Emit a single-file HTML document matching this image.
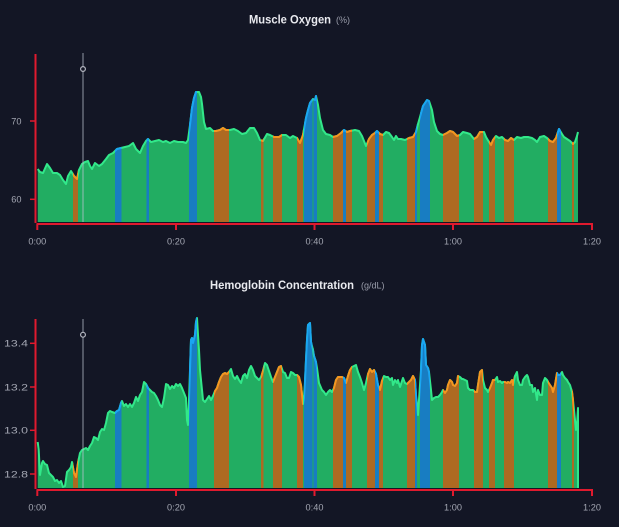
<!DOCTYPE html>
<html><head><meta charset="utf-8"><style>
html,body{margin:0;padding:0;background:#131625;}
svg{display:block;}
text{font-family:"Liberation Sans",sans-serif;}
</style></head><body>
<svg width="619" height="527" viewBox="0 0 619 527" xmlns="http://www.w3.org/2000/svg">
<rect width="619" height="527" fill="#131625"/>
<defs>
<clipPath id="cOr">
<rect x="73" y="0" width="5" height="527"/>
<rect x="214" y="0" width="15" height="527"/>
<rect x="261" y="0" width="2.5" height="527"/>
<rect x="273" y="0" width="9" height="527"/>
<rect x="297" y="0" width="6" height="527"/>
<rect x="333" y="0" width="10" height="527"/>
<rect x="346" y="0" width="6" height="527"/>
<rect x="367" y="0" width="8" height="527"/>
<rect x="379" y="0" width="4" height="527"/>
<rect x="407" y="0" width="8" height="527"/>
<rect x="443" y="0" width="16" height="527"/>
<rect x="474" y="0" width="9" height="527"/>
<rect x="489" y="0" width="6" height="527"/>
<rect x="504" y="0" width="10" height="527"/>
<rect x="548" y="0" width="9" height="527"/>
<rect x="572" y="0" width="2" height="527"/>
</clipPath>
<clipPath id="cBl">
<rect x="115" y="0" width="6.5" height="527"/>
<rect x="146.5" y="0" width="2.5" height="527"/>
<rect x="189" y="0" width="8" height="527"/>
<rect x="304" y="0" width="8.5" height="527"/>
<rect x="313.5" y="0" width="3.5" height="527"/>
<rect x="343" y="0" width="3" height="527"/>
<rect x="375" y="0" width="4" height="527"/>
<rect x="415" y="0" width="2" height="527"/>
<rect x="420" y="0" width="10" height="527"/>
<rect x="557" y="0" width="4" height="527"/>
</clipPath>
<path id="tA" d="M37.7,222 L37.7,169 40,172 43,173 47,164 50,168 53,173 57,173 60,175 63,180 66,184 68,176 71,171 74,176 77,179 79,170 82,164 85,162 88,161 90,166 92,169 95,163 99,166 102,164 106,159 109,155 113,153 117,149 121,148 125,147 129,146 133,143 136,149 140,153 143,146 146,141 148,139 151,142 155,141 159,140 163,142 166,141 170,143 174,141 178,142 183,142 186,143 188,140 190,125 192,108 194,98 196,92 199,92 201,97 202,104 204,122 206,129 210,128 213,131 216,131 220,130 223,128 226,130 230,130 234,129 238,131 242,134 246,133 250,128 254,128 257,133 260,140 263,141 267,134 270,135 274,137 279,137 282,135 286,135 290,138 293,136 297,138 300,143 303,135 306,118 308,110 310,103 313,99 315,100 316,96 318,105 320,118 323,130 326,134 330,135 333,137 337,136 341,133 344,130 347,132 350,131 355,130 359,131 362,136 366,146 369,139 372,135 375,133 377,131 380,134 383,135 386,132 389,133 392,137 394,140 396,136 398,139 401,139 405,140 409,138 413,137 416,132 418,124 420,117 423,106 427,100 429,101 432,110 434,122 437,131 440,134 443,135 447,133 450,131 453,132 457,136 460,135 463,132 467,133 470,134 474,139 477,137 480,132 484,132 486,137 489,142 491,145 493,140 496,136 499,138 502,137 505,140 508,141 511,138 514,140 517,137 521,138 524,137 528,137 532,138 535,140 537,142 540,137 544,136 547,138 550,141 553,142 556,138 559,129 562,134 564,137 567,139 570,141 573,144 575,142 577,136 578,132 L578,222 Z"/>
<path id="tL" d="M37.7,169 40,172 43,173 47,164 50,168 53,173 57,173 60,175 63,180 66,184 68,176 71,171 74,176 77,179 79,170 82,164 85,162 88,161 90,166 92,169 95,163 99,166 102,164 106,159 109,155 113,153 117,149 121,148 125,147 129,146 133,143 136,149 140,153 143,146 146,141 148,139 151,142 155,141 159,140 163,142 166,141 170,143 174,141 178,142 183,142 186,143 188,140 190,125 192,108 194,98 196,92 199,92 201,97 202,104 204,122 206,129 210,128 213,131 216,131 220,130 223,128 226,130 230,130 234,129 238,131 242,134 246,133 250,128 254,128 257,133 260,140 263,141 267,134 270,135 274,137 279,137 282,135 286,135 290,138 293,136 297,138 300,143 303,135 306,118 308,110 310,103 313,99 315,100 316,96 318,105 320,118 323,130 326,134 330,135 333,137 337,136 341,133 344,130 347,132 350,131 355,130 359,131 362,136 366,146 369,139 372,135 375,133 377,131 380,134 383,135 386,132 389,133 392,137 394,140 396,136 398,139 401,139 405,140 409,138 413,137 416,132 418,124 420,117 423,106 427,100 429,101 432,110 434,122 437,131 440,134 443,135 447,133 450,131 453,132 457,136 460,135 463,132 467,133 470,134 474,139 477,137 480,132 484,132 486,137 489,142 491,145 493,140 496,136 499,138 502,137 505,140 508,141 511,138 514,140 517,137 521,138 524,137 528,137 532,138 535,140 537,142 540,137 544,136 547,138 550,141 553,142 556,138 559,129 562,134 564,137 567,139 570,141 573,144 575,142 577,136 578,132"/>
<path id="bA" d="M37.7,488 L37.7,442 38.7,450 40,475 42,463 43,461 45,464 47,465 49,473 51,475 53,477 55,481 57,480 59,483 61,481 63,487 65,486 67,472 69,470 71,467 72,462 74,473 76,477 78,463 80,453 82,450 84,449 86,448 88,450 90,446 92,443 94,437 96,438 98,440 100,432 102,429 104,430 106,423 108,413 110,411 112,412 115,413 117,411 119,410 121,403 122,401 124,406 126,404 128,407 130,404 132,407 134,403 136,397 138,401 140,395 142,392 144,382 146,384 148,388 150,390 152,392 154,393 156,396 158,400 160,405 162,407 164,398 166,384 168,385 170,389 172,386 174,388 176,384 178,386 180,384 182,388 184,393 186,398 187,420 188,425 189,400 191,340 192,338 193,343 195,335 196,322 197,318 198,335 199,350 200,370 202,390 203,400 205,402 207,399 209,396 211,400 213,396 215,391 217,388 219,382 221,377 223,374 225,373 227,374 229,372 231,369 233,376 235,379 237,376 239,380 241,383 243,376 245,374 247,378 249,370 251,366 253,370 255,376 257,378 259,380 261,377 263,371 265,363 267,365 269,371 271,377 273,382 275,377 277,372 279,367 281,366 283,372 285,373 287,378 289,378 291,372 293,373 295,375 297,375 299,377 301,385 303,404 304,398 305,381 306,360 307,340 308,325 310,323 311,342 313,350 314,356 316,362 317,368 319,383 322,390 324,392 326,395 328,392 330,390 332,392 334,388 336,380 338,377 340,377 342,377 344,378 346,383 348,376 350,370 352,367 354,366 356,365 358,372 360,377 362,383 364,390 366,383 368,374 370,369 372,372 374,370 376,374 378,385 380,390 382,381 384,376 386,377 388,377 390,380 392,378 393,385 395,380 397,383 398,380 400,387 402,381 403,378 405,383 407,384 409,382 411,380 413,376 415,380 416,395 418,415 419,400 421,370 422,345 423,339 425,345 426,365 428,368 429,372 431,390 432,400 434,398 436,397 438,397 440,395 442,392 443,390 445,393 447,390 448,385 450,380 452,382 453,385 455,386 457,383 458,376 460,377 462,379 463,379 465,380 467,381 468,388 470,390 472,390 473,390 475,392 477,392 478,385 480,372 482,370 483,380 485,388 487,390 488,392 490,388 492,383 493,380 495,380 497,377 498,382 500,381 502,383 503,382 505,382 507,383 508,382 510,383 512,380 513,385 515,376 517,372 518,380 520,385 522,385 523,380 525,377 527,375 528,377 530,385 532,385 533,392 535,388 537,400 538,390 540,395 542,395 543,383 545,378 547,380 548,382 550,385 552,388 553,392 555,385 557,373 558,375 560,375 562,372 563,375 565,378 567,380 568,382 570,385 572,392 573,400 574,410 575,420 576,430 577,425 578,408 L578,488 Z"/>
<path id="bL" d="M37.7,442 38.7,450 40,475 42,463 43,461 45,464 47,465 49,473 51,475 53,477 55,481 57,480 59,483 61,481 63,487 65,486 67,472 69,470 71,467 72,462 74,473 76,477 78,463 80,453 82,450 84,449 86,448 88,450 90,446 92,443 94,437 96,438 98,440 100,432 102,429 104,430 106,423 108,413 110,411 112,412 115,413 117,411 119,410 121,403 122,401 124,406 126,404 128,407 130,404 132,407 134,403 136,397 138,401 140,395 142,392 144,382 146,384 148,388 150,390 152,392 154,393 156,396 158,400 160,405 162,407 164,398 166,384 168,385 170,389 172,386 174,388 176,384 178,386 180,384 182,388 184,393 186,398 187,420 188,425 189,400 191,340 192,338 193,343 195,335 196,322 197,318 198,335 199,350 200,370 202,390 203,400 205,402 207,399 209,396 211,400 213,396 215,391 217,388 219,382 221,377 223,374 225,373 227,374 229,372 231,369 233,376 235,379 237,376 239,380 241,383 243,376 245,374 247,378 249,370 251,366 253,370 255,376 257,378 259,380 261,377 263,371 265,363 267,365 269,371 271,377 273,382 275,377 277,372 279,367 281,366 283,372 285,373 287,378 289,378 291,372 293,373 295,375 297,375 299,377 301,385 303,404 304,398 305,381 306,360 307,340 308,325 310,323 311,342 313,350 314,356 316,362 317,368 319,383 322,390 324,392 326,395 328,392 330,390 332,392 334,388 336,380 338,377 340,377 342,377 344,378 346,383 348,376 350,370 352,367 354,366 356,365 358,372 360,377 362,383 364,390 366,383 368,374 370,369 372,372 374,370 376,374 378,385 380,390 382,381 384,376 386,377 388,377 390,380 392,378 393,385 395,380 397,383 398,380 400,387 402,381 403,378 405,383 407,384 409,382 411,380 413,376 415,380 416,395 418,415 419,400 421,370 422,345 423,339 425,345 426,365 428,368 429,372 431,390 432,400 434,398 436,397 438,397 440,395 442,392 443,390 445,393 447,390 448,385 450,380 452,382 453,385 455,386 457,383 458,376 460,377 462,379 463,379 465,380 467,381 468,388 470,390 472,390 473,390 475,392 477,392 478,385 480,372 482,370 483,380 485,388 487,390 488,392 490,388 492,383 493,380 495,380 497,377 498,382 500,381 502,383 503,382 505,382 507,383 508,382 510,383 512,380 513,385 515,376 517,372 518,380 520,385 522,385 523,380 525,377 527,375 528,377 530,385 532,385 533,392 535,388 537,400 538,390 540,395 542,395 543,383 545,378 547,380 548,382 550,385 552,388 553,392 555,385 557,373 558,375 560,375 562,372 563,375 565,378 567,380 568,382 570,385 572,392 573,400 574,410 575,420 576,430 577,425 578,408 L578,488"/>
</defs>

<!-- TOP CHART -->
<text x="249" y="23.5" font-size="11.6" font-weight="bold" fill="#e9eaef" textLength="82" lengthAdjust="spacingAndGlyphs">Muscle Oxygen</text>
<text x="336" y="23" font-size="9" fill="#9a9dab">(%)</text>

<use href="#tA" fill="#22ad62"/>
<use href="#tL" fill="none" stroke="#32e88a" stroke-width="2" stroke-linejoin="round"/>
<g clip-path="url(#cOr)">
<use href="#tA" fill="#ad6a22"/>
<use href="#tL" fill="none" stroke="#f5951f" stroke-width="2" stroke-linejoin="round"/>
</g>
<g clip-path="url(#cBl)">
<use href="#tA" fill="#187dc2"/>
<use href="#tL" fill="none" stroke="#1aa6f2" stroke-width="2" stroke-linejoin="round"/>
</g>

<line x1="83" y1="53" x2="83" y2="222" stroke="rgba(190,195,210,0.5)" stroke-width="1.5"/>
<circle cx="83" cy="69" r="2.4" fill="#131625" stroke="#b4b6c0" stroke-width="1.2"/>

<line x1="35.5" y1="54" x2="35.5" y2="223" stroke="#e01a2e" stroke-width="2"/>
<line x1="30" y1="121" x2="35" y2="121" stroke="#e01a2e" stroke-width="1.5"/>
<line x1="30" y1="199.3" x2="35" y2="199.3" stroke="#e01a2e" stroke-width="1.5"/>
<line x1="36.5" y1="224" x2="593" y2="224" stroke="#e01a2e" stroke-width="2"/>
<g stroke="#e01a2e" stroke-width="2">
<line x1="37.3" y1="224" x2="37.3" y2="230"/>
<line x1="176" y1="224" x2="176" y2="230"/>
<line x1="314.5" y1="224" x2="314.5" y2="230"/>
<line x1="453" y1="224" x2="453" y2="230"/>
<line x1="592" y1="224" x2="592" y2="230"/>
</g>
<g font-size="9.2" fill="#a3a6b2">
<text x="21.5" y="124.5" text-anchor="end">70</text>
<text x="21.5" y="202.5" text-anchor="end">60</text>
<text x="37.3" y="244.5" text-anchor="middle">0:00</text>
<text x="176" y="244.5" text-anchor="middle">0:20</text>
<text x="314.5" y="244.5" text-anchor="middle">0:40</text>
<text x="453" y="244.5" text-anchor="middle">1:00</text>
<text x="592" y="244.5" text-anchor="middle">1:20</text>
</g>

<!-- BOTTOM CHART -->
<text x="210" y="289" font-size="11.6" font-weight="bold" fill="#e9eaef" textLength="144" lengthAdjust="spacingAndGlyphs">Hemoglobin Concentration</text>
<text x="361" y="288.5" font-size="9" fill="#9a9dab">(g/dL)</text>

<use href="#bA" fill="#22ad62"/>
<use href="#bL" fill="none" stroke="#32e88a" stroke-width="2" stroke-linejoin="round"/>
<g clip-path="url(#cOr)">
<use href="#bA" fill="#ad6a22"/>
<use href="#bL" fill="none" stroke="#f5951f" stroke-width="2" stroke-linejoin="round"/>
</g>
<g clip-path="url(#cBl)">
<use href="#bA" fill="#187dc2"/>
<use href="#bL" fill="none" stroke="#1aa6f2" stroke-width="2" stroke-linejoin="round"/>
</g>

<line x1="83" y1="319" x2="83" y2="488" stroke="rgba(190,195,210,0.5)" stroke-width="1.5"/>
<circle cx="83" cy="334.7" r="2.4" fill="#131625" stroke="#b4b6c0" stroke-width="1.2"/>

<line x1="35.5" y1="319" x2="35.5" y2="489" stroke="#e01a2e" stroke-width="2"/>
<g stroke="#e01a2e" stroke-width="1.5">
<line x1="30" y1="343.3" x2="35" y2="343.3"/>
<line x1="30" y1="387" x2="35" y2="387"/>
<line x1="30" y1="430.3" x2="35" y2="430.3"/>
<line x1="30" y1="474" x2="35" y2="474"/>
</g>
<line x1="36.5" y1="490" x2="593" y2="490" stroke="#e01a2e" stroke-width="2"/>
<g stroke="#e01a2e" stroke-width="2">
<line x1="37.3" y1="490" x2="37.3" y2="496"/>
<line x1="176" y1="490" x2="176" y2="496"/>
<line x1="314.5" y1="490" x2="314.5" y2="496"/>
<line x1="453" y1="490" x2="453" y2="496"/>
<line x1="592" y1="490" x2="592" y2="496"/>
</g>
<g font-size="9.6" fill="#a3a6b2">
<text x="4" y="346.6" textLength="24" lengthAdjust="spacingAndGlyphs">13.4</text>
<text x="4" y="390.3" textLength="24" lengthAdjust="spacingAndGlyphs">13.2</text>
<text x="4" y="433.6" textLength="24" lengthAdjust="spacingAndGlyphs">13.0</text>
<text x="4" y="477.3" textLength="24" lengthAdjust="spacingAndGlyphs">12.8</text>
</g>
<g font-size="9.2" fill="#a3a6b2">
<text x="37.3" y="510.5" text-anchor="middle">0:00</text>
<text x="176" y="510.5" text-anchor="middle">0:20</text>
<text x="314.5" y="510.5" text-anchor="middle">0:40</text>
<text x="453" y="510.5" text-anchor="middle">1:00</text>
<text x="592" y="510.5" text-anchor="middle">1:20</text>
</g>
</svg>
</body></html>
